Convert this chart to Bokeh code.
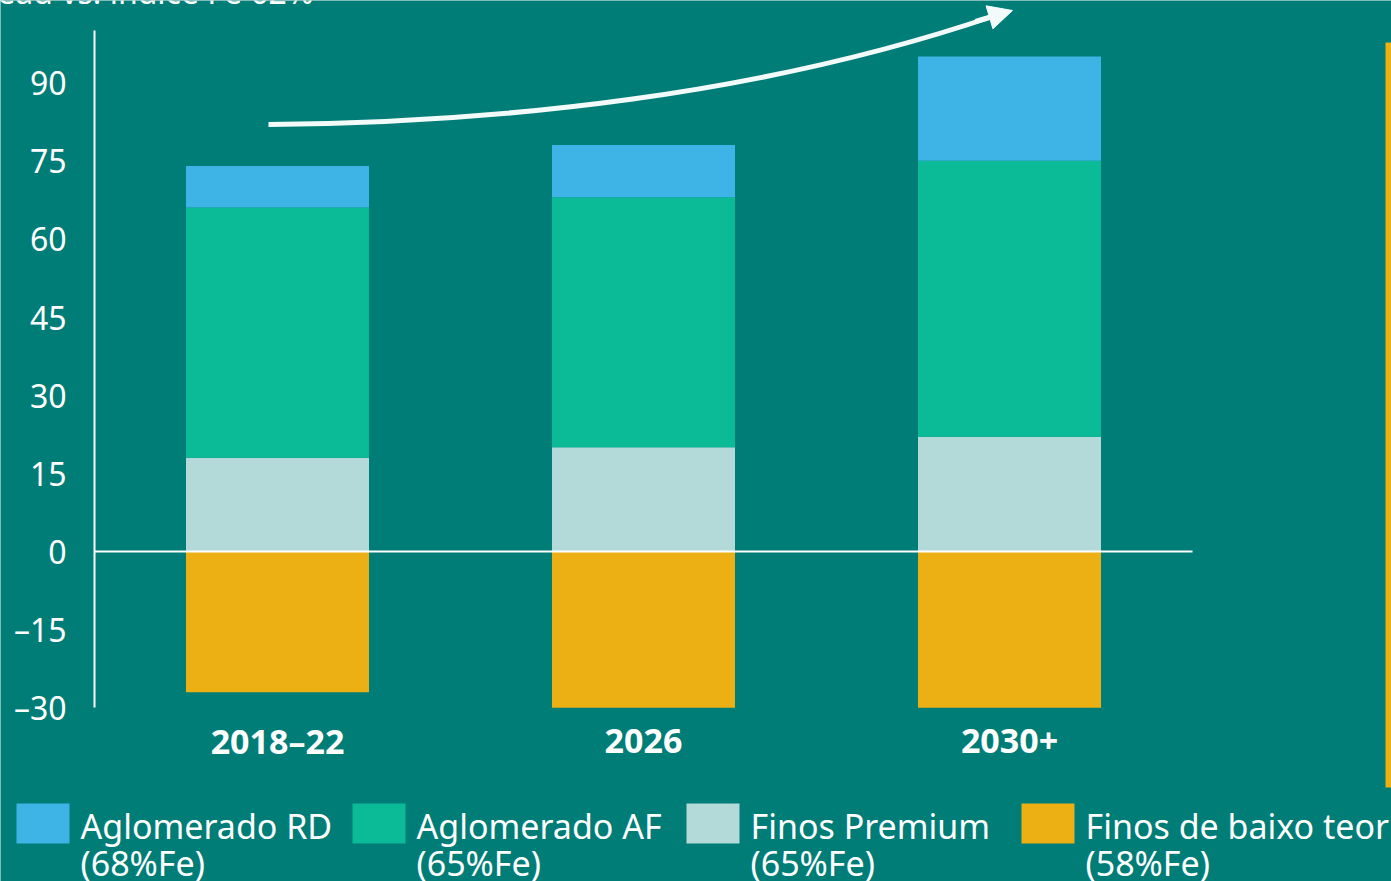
from bokeh.plotting import figure
from bokeh.models import Range1d, FixedTicker, Arrow, NormalHead
from bokeh.core.properties import value
from bokeh.embed import file_html
from bokeh.resources import INLINE

# ---------------- data ----------------
categories = ["2018–22", "2026", "2030+"]
finos_premium = [18, 20, 22]          # light teal
aglomerado_af = [48, 48, 53]          # green
aglomerado_rd = [8, 10, 20]           # blue
finos_baixo = [-27, -30, -30]         # orange (negative)

series_names = ["Aglomerado RD", "Aglomerado AF", "Finos Premium", "Finos de baixo teor"]
series_sub = ["(68%Fe)", "(65%Fe)", "(65%Fe)", "(58%Fe)"]
y_ticks = [-30, -15, 0, 15, 30, 45, 60, 75, 90]
title_text = "Spread vs. índice Fe 62%"

# ---------------- style / layout ----------------
BG = "#007D77"
C_RD = "#3DB4E5"
C_AF = "#0BBA97"
C_FP = "#B3DAD9"
C_FB = "#ECB014"
WHITE = "#FFFFFF"
ARROW_C = "#F2FBFA"
FONT = "Noto Sans"
W, H = 1391, 881
X0_PX, XU = 94.0, 366.0            # pixel of x=0, pixels per category
Y0_PX, YU = 551.0, 469.0 / 90.0    # pixel of y=0, pixels per unit


def px2x(px):
    return (px - X0_PX) / XU


def px2y(py):
    return (Y0_PX - py) / YU


xs = [i + 0.5 for i in range(len(categories))]

p = figure(width=W, height=H, output_backend="svg", toolbar_location=None,
           x_range=Range1d(px2x(0), px2x(W)), y_range=Range1d(px2y(H), px2y(0)),
           x_axis_location=None, min_border=0)
p.background_fill_color = BG
p.border_fill_color = BG
p.outline_line_color = None
p.grid.visible = False

# stacked bars
zeros = [0] * len(categories)
tops1 = list(finos_premium)
tops2 = [a + b for a, b in zip(finos_premium, aglomerado_af)]
tops3 = [a + b + c for a, b, c in zip(finos_premium, aglomerado_af, aglomerado_rd)]
p.vbar(x=xs, bottom=zeros, top=tops1, width=0.5, fill_color=C_FP, line_color=None)
p.vbar(x=xs, bottom=tops1, top=tops2, width=0.5, fill_color=C_AF, line_color=None)
p.vbar(x=xs, bottom=tops2, top=tops3, width=0.5, fill_color=C_RD, line_color=None)
p.vbar(x=xs, bottom=zeros, top=finos_baixo, width=0.5, fill_color=C_FB, line_color=None)

# zero line
p.line(x=[0, len(categories)], y=[0, 0], line_color=WHITE, line_width=2)

# y axis pinned at x = 0
ax = p.yaxis[0]
ax.fixed_location = 0
ax.ticker = FixedTicker(ticks=y_ticks)
ax.bounds = (-30, 100)
ax.major_label_overrides = {t: (("–" + str(abs(t))) if t < 0 else str(t)) for t in y_ticks}
ax.axis_line_color = WHITE
ax.axis_line_width = 2
ax.major_tick_line_color = None
ax.minor_tick_line_color = None
ax.major_label_text_color = WHITE
ax.major_label_text_font = FONT
ax.major_label_text_font_size = "32px"
ax.major_label_standoff = 22

# category labels
p.text(x=xs, y=[px2y(740)] * len(xs), text=categories, text_color=WHITE,
       text_font=value(FONT), text_font_size="34px", text_font_style="bold",
       text_align="center", text_baseline="middle")

# arrow (decoration)
p.bezier(x0=px2x(268), y0=px2y(124), cx0=px2x(500), cy0=px2y(122),
         cx1=px2x(760), cy1=px2y(95), x1=px2x(995), y1=px2y(15),
         line_color=ARROW_C, line_width=5)
p.add_layout(Arrow(end=NormalHead(size=24, fill_color=ARROW_C, line_color=ARROW_C),
                   x_start=px2x(975), y_start=px2y(21), x_end=px2x(1012), y_end=px2y(10),
                   line_color=ARROW_C, line_width=5))

# right orange strip
p.quad(left=[px2x(1385)], right=[px2x(1391)], bottom=[px2y(787)], top=[px2y(42)],
       fill_color=C_FB, line_color=None)

# partially visible title at the top edge
p.text(x=[px2x(313)], y=[px2y(-9)], text=[title_text], text_align="right",
       text_baseline="alphabetic", text_color=WHITE, text_font=value(FONT),
       text_font_size="32px")

# legend
leg_colors = [C_RD, C_AF, C_FP, C_FB]
leg_px = [16, 352, 686, 1021]
p.quad(left=[px2x(v) for v in leg_px], right=[px2x(v + 53) for v in leg_px],
       top=[px2y(803)] * 4, bottom=[px2y(843)] * 4, fill_color=leg_colors, line_color=None)
p.text(x=[px2x(v + 64) for v in leg_px], y=[px2y(825)] * 4, text=series_names,
       text_color=WHITE, text_font=value(FONT), text_font_size="34px", text_baseline="middle")
p.text(x=[px2x(v + 64) for v in leg_px], y=[px2y(862)] * 4, text=series_sub,
       text_color=WHITE, text_font=value(FONT), text_font_size="34px", text_baseline="middle")

open("out.html", "w").write(file_html(p, INLINE))
